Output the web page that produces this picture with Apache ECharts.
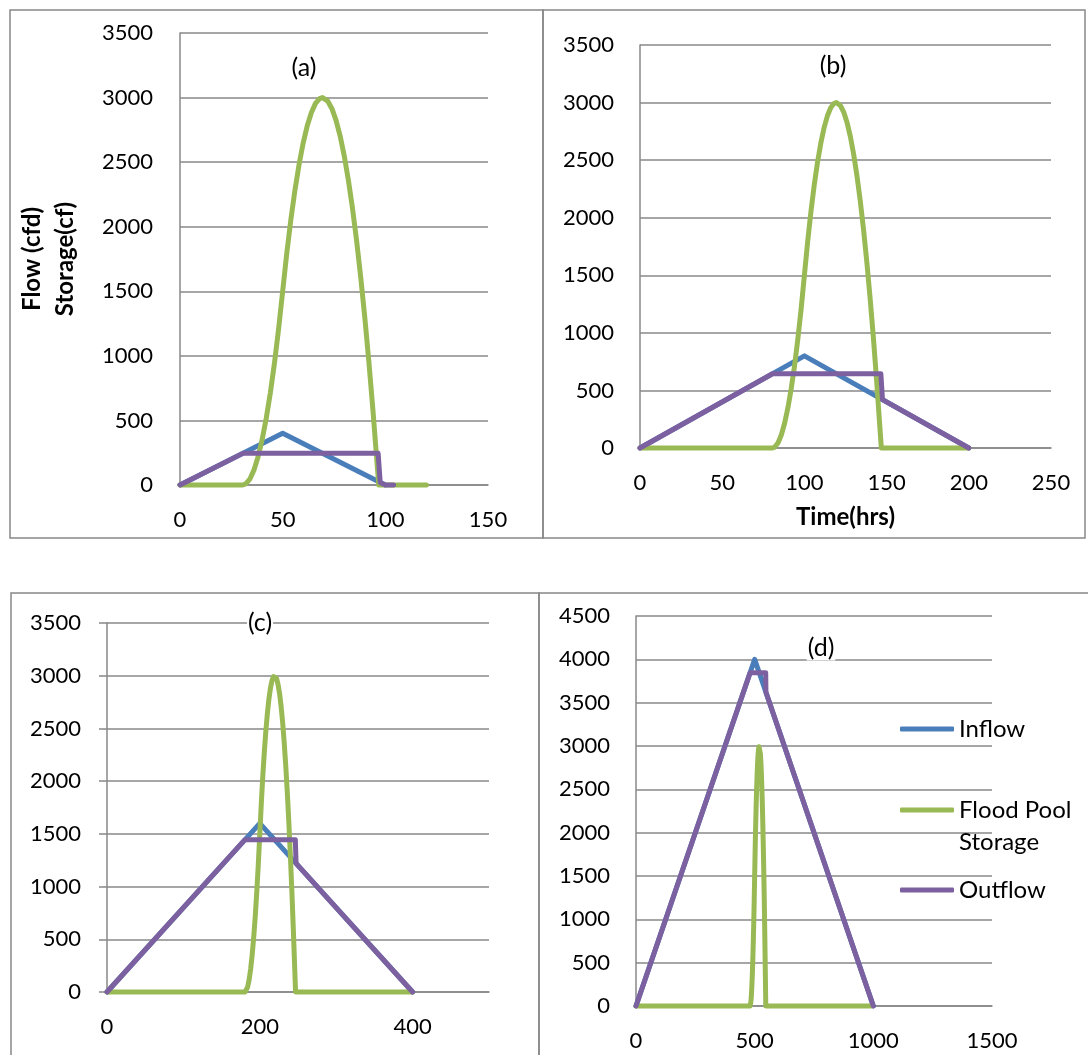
<!DOCTYPE html>
<html>
<head>
<meta charset="utf-8">
<script src="https://cdn.jsdelivr.net/npm/echarts@6/dist/echarts.min.js"></script>
<style>
html,body{margin:0;padding:0;background:#fff;}
#chart{width:1088px;height:1055px;}
</style>
</head>
<body>
<div id="chart"></div>
<script>
// ---------- Data ----------
const seriesNames = ['Inflow', 'Flood Pool Storage', 'Outflow'];
const panelLabels = ['(a)', '(b)', '(c)', '(d)'];

// Panel (a)
const inflowTimeA = [0, 50, 100];
const inflowA = [0, 400, 0];
const outflowTimeA = [0, 30.6, 96.5, 97.5, 100, 104];
const outflowA = [0, 245, 245, 20, 0, 0];
const storageTimeA = [0, 30.6, 32, 34, 36, 38, 40, 42, 44, 46, 48, 50, 52, 54, 56, 58, 60, 62, 64, 66, 68, 69.4, 70, 72, 74, 76, 78, 80, 82, 84, 86, 88, 90, 92, 94, 96, 96.8, 120];

// Panel (b)
const inflowTimeB = [0, 100, 200];
const inflowB = [0, 800, 0];
const outflowTimeB = [0, 80.6, 146.5, 147.5, 200];
const outflowB = [0, 645, 645, 420, 0];
const storageTimeB = [0, 80.6, 82, 84, 86, 88, 90, 92, 94, 96, 98, 100, 102, 104, 106, 108, 110, 112, 114, 116, 118, 119.4, 120, 122, 124, 126, 128, 130, 132, 134, 136, 138, 140, 142, 144, 146, 146.8, 200];

// Panel (c)
const inflowTimeC = [0, 200, 400];
const inflowC = [0, 1600, 0];
const outflowTimeC = [0, 180.6, 246.5, 247.5, 400];
const outflowC = [0, 1445, 1445, 1220, 0];
const storageTimeC = [0, 180.6, 182, 184, 186, 188, 190, 192, 194, 196, 198, 200, 202, 204, 206, 208, 210, 212, 214, 216, 218, 219.4, 220, 222, 224, 226, 228, 230, 232, 234, 236, 238, 240, 242, 244, 246, 246.8, 400];

// Panel (d)
const inflowTimeD = [0, 500, 1000];
const inflowD = [0, 4000, 0];
const outflowTimeD = [0, 480.6, 546.5, 547.5, 1000];
const outflowD = [0, 3845, 3845, 3620, 0];
const storageTimeD = [0, 480.6, 482, 484, 486, 488, 490, 492, 494, 496, 498, 500, 502, 504, 506, 508, 510, 512, 514, 516, 518, 519.4, 520, 522, 524, 526, 528, 530, 532, 534, 536, 538, 540, 542, 544, 546, 546.8, 990];

// Flood pool storage hydrograph (same shape in all four panels, peak 3000)
const floodPoolStorage = [0, 0, 8, 45, 115, 217, 351, 517, 714, 944, 1206, 1500, 1794, 2056, 2286, 2483, 2649, 2783, 2885, 2955, 2992, 3000, 2998, 2972, 2914, 2824, 2702, 2548, 2361, 2143, 1893, 1611, 1297, 951, 572, 162, 0, 0];

// Axis ranges / tick steps
const xMax = [150, 250, 500, 1500];
const xStep = [50, 50, 200, 500];
const yMax = [3500, 3500, 3500, 4500];
const yStep = [500, 500, 500, 500];

// ---------- Chart ----------
const FONT = 'Lato, "Open Sans", sans-serif';
const GRID_COLOR = '#888888';
const COLORS = ['#4A7EBB', '#98B954', '#7D60A0'];

const pairs = (t, v) => t.map((x, i) => [x, v[i]]);

const panels = [
  {inflow: pairs(inflowTimeA, inflowA), storage: pairs(storageTimeA, floodPoolStorage), outflow: pairs(outflowTimeA, outflowA)},
  {inflow: pairs(inflowTimeB, inflowB), storage: pairs(storageTimeB, floodPoolStorage), outflow: pairs(outflowTimeB, outflowB)},
  {inflow: pairs(inflowTimeC, inflowC), storage: pairs(storageTimeC, floodPoolStorage), outflow: pairs(outflowTimeC, outflowC)},
  {inflow: pairs(inflowTimeD, inflowD), storage: pairs(storageTimeD, floodPoolStorage), outflow: pairs(outflowTimeD, outflowD)}
];

const grids = [
  {left: 180, top: 33, width: 308, height: 452},
  {left: 640, top: 45, width: 411, height: 403},
  {left: 107, top: 623, width: 382, height: 369},
  {left: 636, top: 616, width: 356, height: 390}
];
const yLabelMargin = [27, 26, 26, 26];

const plain = v => String(v);
const labelStyle = {color: '#000', fontFamily: FONT, fontSize: 22, lineHeight: 22, formatter: plain};

const xAxes = grids.map((g, i) => ({
  type: 'value', gridIndex: i, min: 0, max: xMax[i], interval: xStep[i],
  axisLine: {show: true, onZero: false, lineStyle: {color: GRID_COLOR, width: 1.5}},
  axisTick: {show: false},
  splitLine: {show: false},
  axisLabel: Object.assign({margin: 24, showMaxLabel: i !== 2}, labelStyle),
  name: i === 1 ? 'Time(hrs)' : '',
  nameLocation: 'middle',
  nameGap: 56,
  nameTextStyle: {color: '#000', fontFamily: FONT, fontSize: 24, fontWeight: 'bold', lineHeight: 26}
}));

const yAxes = grids.map((g, i) => ({
  type: 'value', gridIndex: i, min: 0, max: yMax[i], interval: yStep[i],
  axisLine: {show: true, lineStyle: {color: GRID_COLOR, width: 1.5}},
  axisTick: {show: i === 2, length: 8, inside: false, lineStyle: {color: GRID_COLOR, width: 1.5}},
  splitLine: {show: true, lineStyle: {color: GRID_COLOR, width: 1.5}},
  axisLabel: Object.assign({margin: yLabelMargin[i]}, labelStyle),
  name: i === 0 ? 'Flow (cfd)\nStorage(cf)' : '',
  nameLocation: 'middle',
  nameRotate: 90,
  nameGap: 98,
  nameTextStyle: {color: '#000', fontFamily: FONT, fontSize: 24, fontWeight: 'bold', lineHeight: 33}
}));

const series = [];
panels.forEach((p, i) => {
  [p.inflow, p.storage, p.outflow].forEach((d, k) => {
    series.push({
      type: 'line', name: seriesNames[k], xAxisIndex: i, yAxisIndex: i,
      data: d, symbol: 'none', showSymbol: false, clip: false,
      color: COLORS[k],
      lineStyle: {width: 5, color: COLORS[k], cap: 'round', join: 'round'},
      z: 2 + k, animation: false
    });
  });
});

const legendText = {color: '#000', fontFamily: FONT, fontSize: 24, lineHeight: 32};
const legendBase = {
  orient: 'vertical', left: 900, padding: 0, icon: 'roundRect',
  itemWidth: 54, itemHeight: 5, itemGap: 0, selectedMode: false,
  textStyle: legendText
};
const legends = [
  Object.assign({}, legendBase, {top: 713, data: ['Inflow']}),
  Object.assign({}, legendBase, {top: 762, data: ['Flood Pool Storage'],
    formatter: () => ' \nFlood Pool\nStorage'}),
  Object.assign({}, legendBase, {top: 874, data: ['Outflow']})
];

const borderStyle = {fill: 'none', stroke: GRID_COLOR, lineWidth: 1.5};
const borders = [
  {x: 10, y: 10, width: 533, height: 528},
  {x: 543, y: 10, width: 542, height: 528},
  {x: 11, y: 593, width: 528, height: 480},
  {x: 539, y: 593, width: 560, height: 480}
].map(s => ({type: 'rect', shape: s, style: borderStyle, silent: true, z: 0}));

const titlePos = [[304, 68], [833, 66], [260, 623], [821, 648]];
const titles = panelLabels.map((t, i) => ({
  type: 'text', x: titlePos[i][0], y: titlePos[i][1], z: 50,
  style: {text: t, fill: '#000', fontFamily: 'Lato', fontSize: 25, align: 'center', verticalAlign: 'middle',
    backgroundColor: '#fff', padding: [0, 1, 0, 1]}
}));

const chart = echarts.init(document.getElementById('chart'), null, {renderer: 'canvas'});
chart.setOption({
  animation: false,
  backgroundColor: '#fff',
  grid: grids,
  xAxis: xAxes,
  yAxis: yAxes,
  series: series,
  legend: legends,
  graphic: borders.concat(titles)
});
</script>
</body>
</html>
